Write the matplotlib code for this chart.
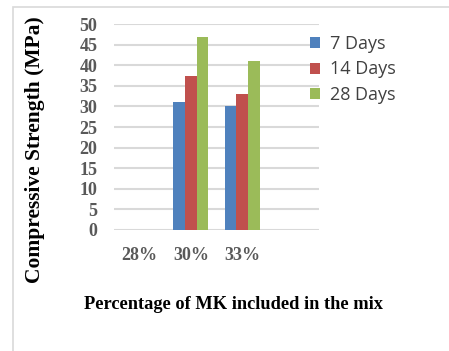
import numpy as np
import matplotlib.pyplot as plt
from matplotlib.patches import Rectangle

# data
categories = ['28%', '30%', '33%', '']
days7 = [0, 31.0, 30.1, 0]
days14 = [0, 37.3, 32.9, 0]
days28 = [0, 46.8, 41.1, 0]
series_names = ['7 Days', '14 Days', '28 Days']
colors = ['#4f81bd', '#c0504d', '#9bbb59']

fig = plt.figure(figsize=(4.49, 3.51), dpi=100)
# light frame around the chart area
fig.patches.append(Rectangle((12.5 / 449, -0.1), 1.2, 1 - 7 / 351 + 0.1,
                             transform=fig.transFigure, fill=False,
                             edgecolor='#d9d9d9', linewidth=1.2))

ax = fig.add_axes([114 / 449, 1 - 230 / 351, 205 / 449, 206 / 351])

x = np.arange(len(categories))
w = 0.227
for i, (vals, name, c) in enumerate(zip([days7, days14, days28], series_names, colors)):
    ax.bar(x + (i - 1) * w, vals, w, color=c, label=name, zorder=3)

ax.set_xlim(-0.5, len(categories) - 0.5)
ax.set_ylim(0, 50)
ax.set_yticks(range(0, 51, 5))
ax.yaxis.grid(True, color='#d9d9d9', linewidth=1.5, zorder=0)
ax.set_axisbelow(True)
for s in ax.spines.values():
    s.set_visible(False)
ax.tick_params(length=0)
ax.set_xticks(x)
ax.set_xticklabels(categories)
for lab in ax.get_xticklabels() + ax.get_yticklabels():
    lab.set_fontfamily('Liberation Serif')
    lab.set_fontweight('bold')
    lab.set_fontsize(13)
    lab.set_color('#595959')
ax.tick_params(axis='y', pad=12)
ax.tick_params(axis='x', pad=12)

ax.set_ylabel('Compressive Strength (MPa)', family='Liberation Serif', fontweight='bold',
              fontsize=15.5, color='black')
ax.yaxis.set_label_coords(-0.338, 0.39)
ax.set_xlabel('Percentage of MK included in the mix', family='Liberation Serif',
              fontweight='bold', fontsize=13.2, color='black')
ax.xaxis.set_label_coords(0.585, -0.318)

leg = fig.legend(loc='upper left', bbox_to_anchor=(294 / 449, 1 - 19 / 351), frameon=False,
                 prop={'family': 'Open Sans', 'size': 13}, handlelength=0.55, handleheight=0.55,
                 handletextpad=0.55, labelspacing=0.4, labelcolor='#404040')

fig.savefig('out.png', dpi=100)
